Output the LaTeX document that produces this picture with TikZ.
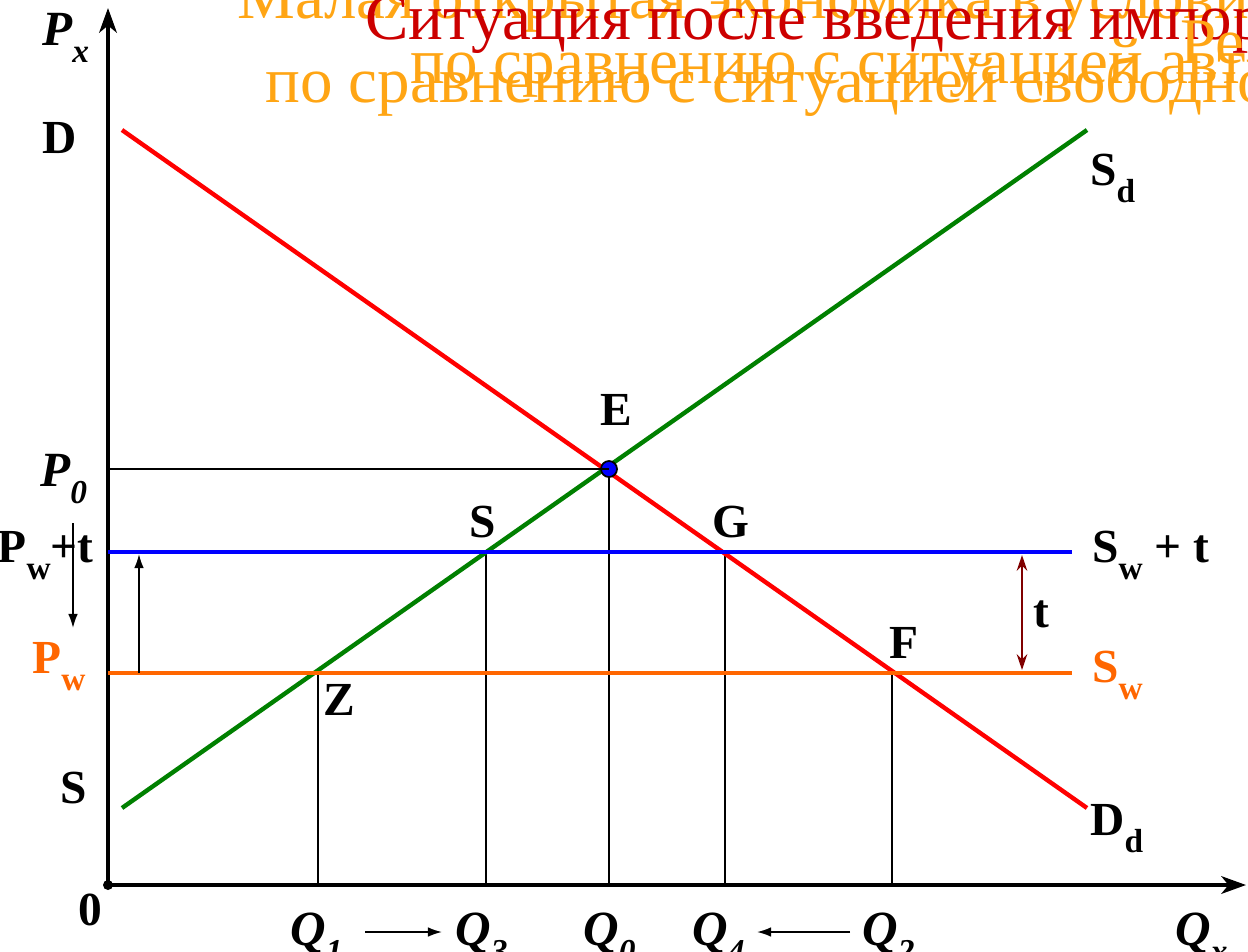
\documentclass[tikz,border=0pt]{standalone}
\usepackage{fontspec}
\setmainfont{Liberation Serif}
\usetikzlibrary{arrows.meta}
\definecolor{DemandRed}{HTML}{FF0000}
\definecolor{SupplyGreen}{HTML}{008000}
\definecolor{TariffBlue}{HTML}{0000FF}
\definecolor{WorldOrange}{HTML}{FF6600}
\definecolor{TitleOrange}{HTML}{FFA514}
\definecolor{TitleRed}{HTML}{CC0000}
\definecolor{GapRed}{HTML}{800000}
\newcommand{\lowsub}[1]{\raisebox{-10pt}{\fontsize{19}{19}\selectfont #1}}

\begin{document}
\begin{tikzpicture}[
    x=0.02cm, y=-0.02cm,
    axis/.style={
      line width=2.2pt,
      -{Stealth[length=14pt,width=10pt,inset=4pt]}
    },
    curve/.style={
      line width=2.5pt
    },
    guide/.style={
      line width=1pt,
      black
    },
    moveline/.style={
      line width=1pt,
      -{Latex[length=8pt,width=5.5pt]}
    },
    lbl/.style={
      anchor=base west,
      inner sep=0pt,
      font=\fontsize{27}{29}\selectfont\bfseries
    },
    qlbl/.style={
      anchor=base west,
      inner sep=0pt,
      font=\fontsize{28}{30}\selectfont\bfseries\itshape
    },
    title/.style={
      anchor=base west,
      inner sep=0pt,
      font=\fontsize{37}{39}\selectfont
    }
  ]
  \useasboundingbox (0,0) rectangle (1248,951);
  \clip (0,0) rectangle (1248,951);

  % Titles
  \node[title,TitleOrange] (t1) at (237,18) {Малая открытая экономика в условиях импортного тарифа};
  \node[title,TitleRed] (t2) at (365,39) {Ситуация после введения импортного тарифа};
  \node[title,TitleOrange] (t3) at (1180,63) {Результат};
  \node[title,TitleOrange] (t4) at (410,83) {по сравнению с ситуацией автаркии};
  \node[title,TitleOrange] (t5) at (265,102) {по сравнению с ситуацией свободной торговли};

  % Axes
  \coordinate (o) at (108,885);
  \coordinate (ytop) at (108,8);
  \coordinate (xend) at (1246,885);
  \draw[axis] (o) -- (ytop);
  \draw[axis] (o) -- (xend);
  \fill (o) circle (5);

  % Points
  \coordinate (dtop) at (122,130);
  \coordinate (dbot) at (1087,808);
  \coordinate (sbot) at (122,808);
  \coordinate (stop) at (1087,130);
  \coordinate (e) at (609,469);
  \coordinate (s) at (486,552);
  \coordinate (g) at (725,552);
  \coordinate (z) at (318,673);
  \coordinate (f) at (892,673);
  \coordinate (p0) at (108,469);
  \coordinate (pwt) at (108,552);
  \coordinate (pw) at (108,673);
  \coordinate (swt) at (1072,552);
  \coordinate (sw) at (1072,673);

  % Guides
  \draw[guide] (e) -- (609,885);
  \draw[guide] (s) -- (486,885);
  \draw[guide] (g) -- (725,885);
  \draw[guide] (z) -- (318,885);
  \draw[guide] (f) -- (892,885);

  % Curves
  \draw[curve,DemandRed] (dtop) -- (dbot);
  \draw[curve,SupplyGreen] (sbot) -- (stop);
  \draw[curve,TariffBlue] (pwt) -- (swt);
  \draw[curve,WorldOrange] (pw) -- (sw);

  % Equilibrium
  \filldraw[fill=TariffBlue,draw=black,line width=1pt] (e) circle (8);
  \draw[guide] (p0) -- (e);

  % Tariff arrows
  \coordinate (gapt) at (1022,555);
  \coordinate (gapb) at (1022,670);
  \draw[line width=1.5pt,GapRed,{Stealth[length=9pt,width=6pt]}-{Stealth[length=9pt,width=6pt]}] (gapt) -- (gapb);
  \coordinate (upb) at (139,673);
  \coordinate (upt) at (139,554);
  \draw[moveline] (upb) -- (upt);
  \coordinate (dnt) at (73,523);
  \coordinate (dnb) at (73,628);
  \draw[moveline] (dnt) -- (dnb);

  % Quantity arrows
  \coordinate (q1r) at (365,932);
  \coordinate (q3l) at (442,932);
  \coordinate (q2l) at (850,932);
  \coordinate (q4r) at (757,932);
  \draw[moveline] (q1r) -- (q3l);
  \draw[moveline] (q2l) -- (q4r);

  % Axis labels
  \node[qlbl] (px) at (42,45) {P\lowsub{x}};
  \node[qlbl] (qx) at (1175,945) {Q\lowsub{x}};
  \node[lbl] (zero) at (78,925) {0};
  \node[lbl] (dlbl) at (42,153) {D};
  \node[lbl] (slbl) at (60,803) {S};
  \node[qlbl] (p0lbl) at (40,486) {P\lowsub{0}};
  \node[lbl,anchor=base east] (pwtlbl) at (94,562) {P\lowsub{w}+t};
  \node[lbl,WorldOrange] (pwlbl) at (32,673) {P\lowsub{w}};

  % Point labels
  \node[lbl] (elbl) at (600,425) {E};
  \node[lbl] (sptlbl) at (469,537) {S};
  \node[lbl] (glbl) at (712,537) {G};
  \node[lbl] (flbl) at (889,658) {F};
  \node[lbl] (zlbl) at (323,715) {Z};

  % Curve labels
  \node[lbl] (sdlbl) at (1090,185) {S\lowsub{d}};
  \node[lbl] (ddlbl) at (1090,835) {D\lowsub{d}};
  \node[lbl] (swtlbl) at (1092,562) {S\lowsub{w} + t};
  \node[lbl,WorldOrange] (swlbl) at (1092,682) {S\lowsub{w}};
  \node[lbl] (tlbl) at (1033,627) {t};

  % Quantities
  \node[qlbl] (q1) at (290,945) {Q\lowsub{1}};
  \node[qlbl] (q3) at (455,945) {Q\lowsub{3}};
  \node[qlbl] (q0) at (583,945) {Q\lowsub{0}};
  \node[qlbl] (q4) at (692,945) {Q\lowsub{4}};
  \node[qlbl] (q2) at (862,945) {Q\lowsub{2}};

\end{tikzpicture}
\end{document}
